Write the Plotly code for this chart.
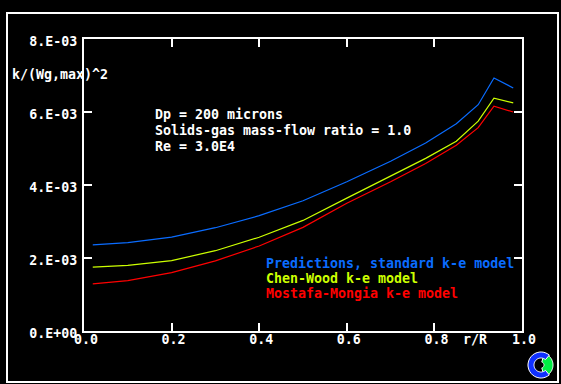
import numpy as np
import plotly.graph_objects as go

# ---- data ----
r_R = [0.02, 0.1, 0.2, 0.3, 0.4, 0.5, 0.6, 0.7, 0.78, 0.85, 0.9, 0.936, 0.98]
k_standard = [2.36e-3, 2.42e-3, 2.57e-3, 2.83e-3, 3.16e-3, 3.57e-3, 4.09e-3, 4.65e-3,
              5.15e-3, 5.68e-3, 6.20e-3, 6.93e-3, 6.66e-3]
k_chenwood = [1.75e-3, 1.80e-3, 1.93e-3, 2.20e-3, 2.57e-3, 3.03e-3, 3.64e-3, 4.24e-3,
              4.73e-3, 5.20e-3, 5.75e-3, 6.38e-3, 6.25e-3]
k_mostafa = [1.29e-3, 1.38e-3, 1.60e-3, 1.92e-3, 2.33e-3, 2.84e-3, 3.50e-3, 4.09e-3,
             4.59e-3, 5.09e-3, 5.57e-3, 6.16e-3, 6.00e-3]

x_ticks = [0.0, 0.2, 0.4, 0.6, 0.8, 1.0]
x_ticktext = ["0.0", "0.2", "0.4", "0.6", "0.8", "1.0"]
y_ticks = [0.0, 2e-3, 4e-3, 6e-3, 8e-3]
y_ticktext = ["0.E+00", "2.E-03", "4.E-03", "6.E-03", "8.E-03"]

series_names = ["Predictions, standard k-e model", "Chen-Wood k-e model", "Mostafa-Mongia k-e model"]
series_colors = ["#0a6cff", "#ccff00", "#ff0000"]
info_lines = ["Dp = 200 microns", "Solids-gas mass-flow ratio = 1.0", "Re = 3.0E4"]

FONT = "DejaVu Sans Mono"
FS = 13.3
W, H = 561, 384
L, R, T, B = 84, 522, 39, 331
PW, PH = R - L, B - T

def px(xpix):
    return (xpix - L) / PW

def py(ypix):
    return (B - ypix) / PH

fig = go.Figure()
for ys, name, col in zip([k_standard, k_chenwood, k_mostafa], series_names, series_colors):
    fig.add_trace(go.Scatter(x=r_R, y=ys, mode="lines", name=name,
                             line=dict(color=col, width=1.2), showlegend=False,
                             hoverinfo="skip"))

axis_common = dict(showline=True, linecolor="white", linewidth=2, mirror="ticks",
                   ticks="inside", ticklen=8, tickwidth=2, tickcolor="white",
                   showgrid=False, zeroline=False,
                   tickfont=dict(family=FONT, size=FS, color="white", weight="bold"))

fig.update_layout(
    width=W, height=H,
    margin=dict(l=L, r=W - R, t=T, b=H - B),
    paper_bgcolor="black", plot_bgcolor="black",
    xaxis=dict(range=[0, 1], tickvals=x_ticks, ticktext=x_ticktext,
               ticklabelstandoff=-5, ticklabelshift=2, **axis_common),
    yaxis=dict(range=[0, 8e-3], tickvals=y_ticks, ticktext=y_ticktext,
               ticklabelstandoff=2, ticklabelshift=2, **axis_common),
    font=dict(family=FONT, size=FS, color="white", weight="bold"),
    hovermode=False,
)

def ann(text, xpix, ypix, color="white", anchor="left"):
    fig.add_annotation(text=text, x=px(xpix), y=py(ypix), xref="paper", yref="paper",
                       xanchor=anchor, yanchor="middle", showarrow=False,
                       font=dict(family=FONT, size=FS, color=color, weight="bold"))

ann("k/(Wg,max)^2", 10, 74)
ann("r/R", 475, 339, anchor="center")
for i, line in enumerate(info_lines):
    ann(line, 153, 114 + 16 * i)
for (name, col), yp in zip(zip(series_names, series_colors), [263, 278, 293]):
    ann(name, 264, yp, color=col)

# outer frame
fig.add_shape(type="rect", xref="paper", yref="paper",
              x0=px(7), x1=px(558), y0=py(382), y1=py(13),
              line=dict(color="white", width=2), fillcolor="rgba(0,0,0,0)", layer="below")

# small logo (decorative)
def arc_path(a0, a1, ro, ri, n=30):
    a = np.linspace(np.radians(a0), np.radians(a1), n)
    pts = [(ro * np.cos(t), ro * np.sin(t)) for t in a]
    pts += [(ri * np.cos(t), ri * np.sin(t)) for t in a[::-1]]
    return "M " + " L ".join(f"{x:.1f},{y:.1f}" for x, y in pts) + " Z"

cx, cy = px(541), py(365)
fig.add_shape(type="path", xref="paper", yref="paper", xsizemode="pixel", ysizemode="pixel",
              xanchor=cx, yanchor=cy, path=arc_path(-75, 75, 12, 3),
              fillcolor="#00ee44", line=dict(color="white", width=1))
fig.add_shape(type="path", xref="paper", yref="paper", xsizemode="pixel", ysizemode="pixel",
              xanchor=cx, yanchor=cy, path=arc_path(50, 310, 13, 7),
              fillcolor="#1030ff", line=dict(color="white", width=1))

fig.write_html("out.html", config={"displayModeBar": False, "staticPlot": True},
               post_script="document.body.style.margin='0px';document.body.style.overflow='hidden';")
